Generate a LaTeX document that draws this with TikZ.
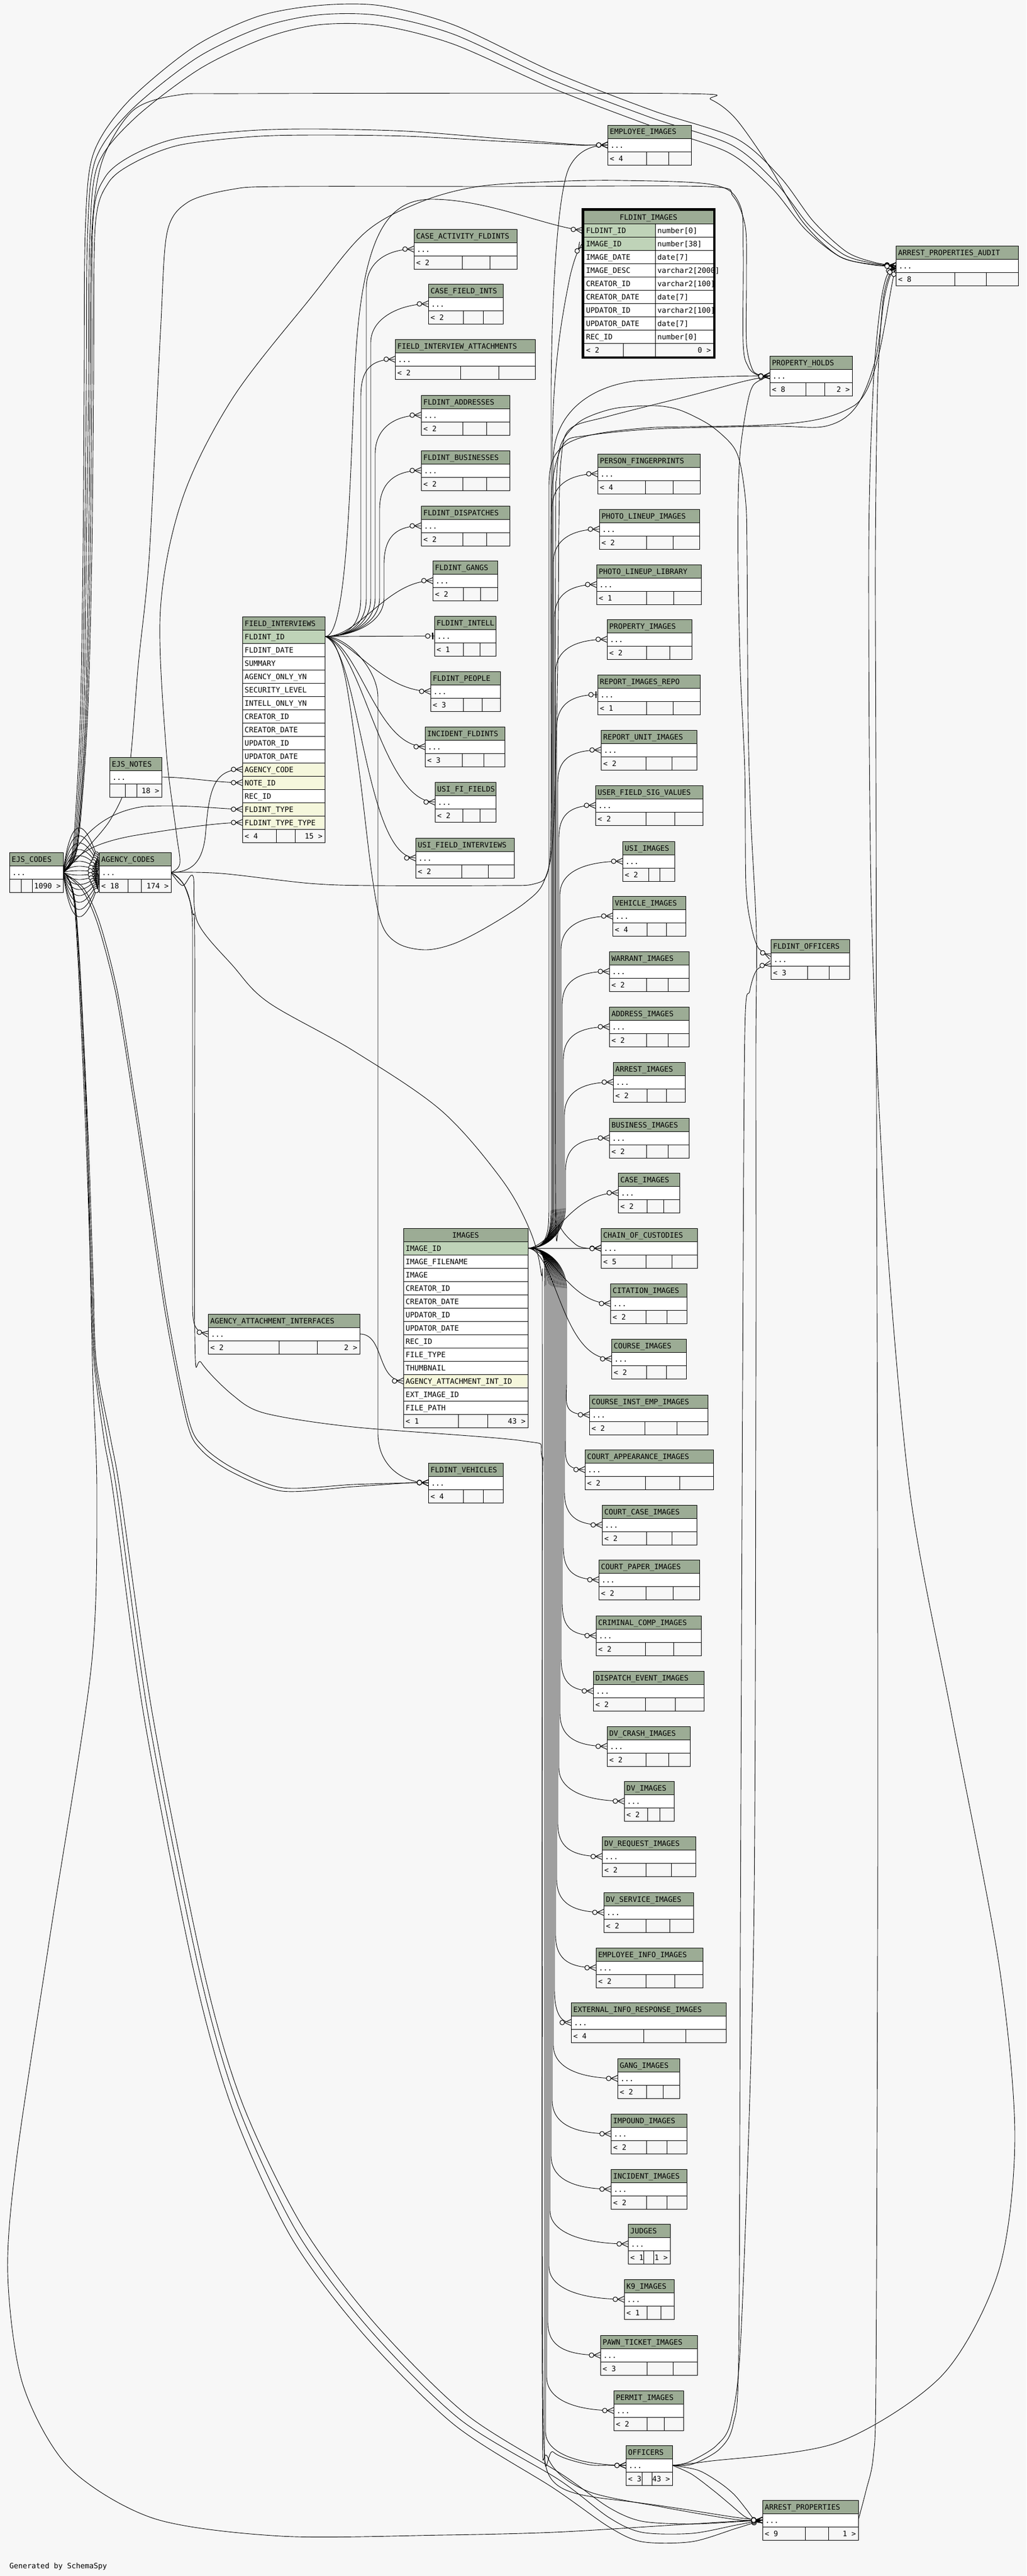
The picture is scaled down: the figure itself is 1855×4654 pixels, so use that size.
\documentclass[tikz,border=0pt]{standalone}
\usepackage{fontspec}
\newfontfamily\tabfont{DejaVu Sans Mono}
\definecolor{bgc}{HTML}{F7F7F7}
\definecolor{hdrc}{HTML}{9CAC95}
\definecolor{pkc}{HTML}{BFD3B8}
\definecolor{fkc}{HTML}{F5F7DC}
\pgfdeclarelayer{bg}
\pgfdeclarelayer{edges}
\pgfsetlayers{bg,edges,main}
\pgfdeclarearrow{
  name = crowodot,
  setup code = {
    \pgfarrowssettipend{0pt}
    \pgfarrowssetlineend{0pt}
    \pgfarrowssetbackend{-21pt}
    \pgfarrowssetvisualbackend{-21pt}
    \pgfarrowshullpoint{0pt}{6pt}
    \pgfarrowshullpoint{0pt}{-6pt}
    \pgfarrowshullpoint{-21pt}{0pt}
  },
  drawing code = {
    \pgfsetlinewidth{1pt}
    \pgfpathmoveto{\pgfqpoint{-12pt}{0pt}}
    \pgfpathlineto{\pgfqpoint{0pt}{5.5pt}}
    \pgfpathmoveto{\pgfqpoint{-12pt}{0pt}}
    \pgfpathlineto{\pgfqpoint{0pt}{-5.5pt}}
    \pgfusepathqstroke
    \pgfpathcircle{\pgfqpoint{-16pt}{0pt}}{4.2pt}
    \pgfsetfillcolor{bgc}
    \pgfusepathqfillstroke
  }
}
\pgfdeclarearrow{
  name = zeroone,
  setup code = {
    \pgfarrowssettipend{0pt}
    \pgfarrowssetlineend{0pt}
    \pgfarrowssetbackend{-17pt}
    \pgfarrowssetvisualbackend{-17pt}
    \pgfarrowshullpoint{0pt}{6pt}
    \pgfarrowshullpoint{0pt}{-6pt}
    \pgfarrowshullpoint{-17pt}{0pt}
  },
  drawing code = {
    \pgfsetlinewidth{2.5pt}
    \pgfpathmoveto{\pgfqpoint{-3pt}{-6pt}}
    \pgfpathlineto{\pgfqpoint{-3pt}{6pt}}
    \pgfusepathqstroke
    \pgfsetlinewidth{1pt}
    \pgfpathcircle{\pgfqpoint{-12pt}{0pt}}{4.2pt}
    \pgfsetfillcolor{bgc}
    \pgfusepathqfillstroke
  }
}
\tikzset{
  tb/.style={draw=black, line width=1pt},
  tx/.style={anchor=base west, inner sep=0pt, font=\tabfont\fontsize{13.3}{15}\selectfont},
  conn/.style={draw=black, line width=0.9pt},
  many/.style={arrows={-crowodot}},
  one/.style={arrows={-zeroone}},
}
% small table: id, x, y, w, title, left count, right count, divider1, divider2
\newcommand{\stab}[9]{%
  \fill[hdrc] (#2,#3) rectangle ++(#4,24);
  \fill[white] (#2,#3+24) rectangle ++(#4,24);
  \fill[bgc] (#2,#3+48) rectangle ++(#4,24);
  \draw[tb] (#2,#3) rectangle ++(#4,72);
  \draw[tb] (#2,#3+24) -- ++(#4,0) (#2,#3+48) -- ++(#4,0);
  \draw[tb] ({#2+#8*#4},#3+48) -- ++(0,24) ({#2+#9*#4},#3+48) -- ++(0,24);
  \node[tx] (#1-t) at (#2+4,#3+17) {#5};
  \node[tx] (#1-d) at (#2+5,#3+41) {...};
  \node[tx] (#1-l) at (#2+4,#3+65) {#6};
  \node[tx,anchor=base east] (#1-r) at (#2+#4-4,#3+65) {#7};
  \coordinate (#1) at (#2,#3+36);
}
% big table row: x, y, w, fill, text, id
\newcommand{\brow}[6]{%
  \fill[#4] (#1,#2) rectangle ++(#3,24);
  \draw[tb] (#1,#2) rectangle ++(#3,24);
  \node[tx] (#6) at (#1+4,#2+17) {#5};
}
% FLDINT_IMAGES row: y, fill, name, type, id
\newcommand{\frow}[5]{%
  \fill[#2] (1055,#1) rectangle (1184,#1+24);
  \fill[white] (1184,#1) rectangle (1289,#1+24);
  \draw[tb] (1055,#1) rectangle (1184,#1+24) (1184,#1) rectangle (1289,#1+24);
  \node[tx] (#5a) at (1059,#1+17) {#3};
  \node[tx] (#5b) at (1188,#1+17) {#4};
}
\newcommand{\fiup}[3]{\draw[conn,many] (FIpk) .. controls +(40,0) and +(0,50) .. (#2,1080) -- (#2,{#3+70}) .. controls +(0,-45) and +(-50,0) .. (#1);}
\newcommand{\imup}[4]{\draw[conn,many] (IMpk) .. controls +(35,0) and +(0,45) .. (#2,2180) -- (#2,{#3+60}) .. controls +(0,-40) and +(-#4,0) .. (#1);}
\newcommand{\imdn}[4]{\draw[conn,many] (IMpk) .. controls +(35,0) and +(0,-45) .. (#2,2330) -- (#2,{#3-60}) .. controls +(0,40) and +(-#4,0) .. (#1);}
\begin{document}
\begin{tikzpicture}[x=1pt,y=-1pt]
\begin{pgfonlayer}{bg}
\fill[bgc] (0,0) rectangle (1855,4654);
\end{pgfonlayer}
\useasboundingbox (0,0) rectangle (1855,4654);

% ---------------- small tables ----------------
\stab{EMP}{1098}{226}{151}{EMPLOYEE\_IMAGES}{< 4}{}{0.47}{0.73}
\stab{APA}{1619}{444}{221}{ARREST\_PROPERTIES\_AUDIT}{< 8}{}{0.48}{0.74}
\stab{CAF}{748}{414}{186}{CASE\_ACTIVITY\_FLDINTS}{< 2}{}{0.47}{0.74}
\stab{CFI}{774}{513}{135}{CASE\_FIELD\_INTS}{< 2}{}{0.47}{0.74}
\stab{FIA}{714}{613}{253}{FIELD\_INTERVIEW\_ATTACHMENTS}{< 2}{}{0.47}{0.74}
\stab{PH}{1391}{643}{149}{PROPERTY\_HOLDS}{< 8}{2 >}{0.44}{0.67}
\stab{ADR}{761}{714}{160}{FLDINT\_ADDRESSES}{< 2}{}{0.47}{0.74}
\stab{BUS}{761}{814}{160}{FLDINT\_BUSINESSES}{< 2}{}{0.47}{0.74}
\stab{PF}{1080}{820}{185}{PERSON\_FINGERPRINTS}{< 4}{}{0.47}{0.74}
\stab{DSP}{761}{914}{160}{FLDINT\_DISPATCHES}{< 2}{}{0.47}{0.74}
\stab{PLI}{1083}{920}{181}{PHOTO\_LINEUP\_IMAGES}{< 2}{}{0.47}{0.74}
\stab{GNG}{782}{1013}{117}{FLDINT\_GANGS}{< 2}{}{0.47}{0.74}
\stab{PLL}{1078}{1020}{189}{PHOTO\_LINEUP\_LIBRARY}{< 1}{}{0.48}{0.74}
\stab{INT}{785}{1113}{111}{FLDINT\_INTELL}{< 1}{}{0.47}{0.74}
\stab{PRI}{1097}{1119}{153}{PROPERTY\_IMAGES}{< 2}{}{0.47}{0.74}
\stab{PPL}{778}{1213}{126}{FLDINT\_PEOPLE}{< 3}{}{0.47}{0.74}
\stab{RIR}{1080}{1219}{185}{REPORT\_IMAGES\_REPO}{< 1}{}{0.48}{0.74}
\stab{INC}{768}{1313}{144}{INCIDENT\_FLDINTS}{< 3}{}{0.47}{0.74}
\stab{RUI}{1086}{1319}{173}{REPORT\_UNIT\_IMAGES}{< 2}{}{0.47}{0.74}
\stab{EN}{198}{1368}{94}{EJS\_NOTES}{}{18 >}{0.30}{0.53}
\stab{UFI}{786}{1413}{110}{USI\_FI\_FIELDS}{< 2}{}{0.46}{0.74}
\stab{UFSV}{1076}{1419}{194}{USER\_FIELD\_SIG\_VALUES}{< 2}{}{0.47}{0.74}
\stab{EJ}{17}{1540}{97}{EJS\_CODES}{}{1090 >}{0.22}{0.43}
\stab{AC}{179}{1540}{130}{AGENCY\_CODES}{< 18}{174 >}{0.40}{0.59}
\stab{UFIV}{751}{1514}{178}{USI\_FIELD\_INTERVIEWS}{< 2}{}{0.47}{0.74}
\stab{USII}{1125}{1520}{94}{USI\_IMAGES}{< 2}{}{0.50}{0.72}
\stab{VEHI}{1107}{1619}{132}{VEHICLE\_IMAGES}{< 4}{}{0.47}{0.74}
\stab{FO}{1393}{1697}{142}{FLDINT\_OFFICERS}{< 3}{}{0.47}{0.74}
\stab{WARI}{1101}{1719}{144}{WARRANT\_IMAGES}{< 2}{}{0.47}{0.74}
\stab{ADDI}{1101}{1819}{144}{ADDRESS\_IMAGES}{< 2}{}{0.47}{0.74}
\stab{ARRI}{1108}{1919}{130}{ARREST\_IMAGES}{< 2}{}{0.47}{0.74}
\stab{BUSI}{1101}{2020}{144}{BUSINESS\_IMAGES}{< 2}{}{0.47}{0.74}
\stab{CSI}{1117}{2119}{111}{CASE\_IMAGES}{< 2}{}{0.47}{0.74}
\stab{COC}{1086}{2219}{174}{CHAIN\_OF\_CUSTODIES}{< 5}{}{0.47}{0.74}
\stab{CIT}{1103}{2319}{138}{CITATION\_IMAGES}{< 2}{}{0.47}{0.74}
\stab{AAI}{376}{2374}{274}{AGENCY\_ATTACHMENT\_INTERFACES}{< 2}{2 >}{0.47}{0.72}
\stab{CRS}{1105}{2419}{135}{COURSE\_IMAGES}{< 2}{}{0.47}{0.74}
\stab{CIE}{1065}{2520}{214}{COURSE\_INST\_EMP\_IMAGES}{< 2}{}{0.47}{0.74}
\stab{CAI}{1057}{2619}{232}{COURT\_APPEARANCE\_IMAGES}{< 2}{}{0.47}{0.74}
\stab{FV}{774}{2643}{135}{FLDINT\_VEHICLES}{< 4}{}{0.47}{0.74}
\stab{CCI}{1088}{2719}{171}{COURT\_CASE\_IMAGES}{< 2}{}{0.47}{0.74}
\stab{CPI}{1082}{2818}{182}{COURT\_PAPER\_IMAGES}{< 2}{}{0.47}{0.74}
\stab{CCO}{1077}{2919}{190}{CRIMINAL\_COMP\_IMAGES}{< 2}{}{0.47}{0.74}
\stab{DEI}{1072}{3019}{200}{DISPATCH\_EVENT\_IMAGES}{< 2}{}{0.47}{0.74}
\stab{DCI}{1097}{3119}{150}{DV\_CRASH\_IMAGES}{< 2}{}{0.47}{0.74}
\stab{DVI}{1128}{3218}{90}{DV\_IMAGES}{< 2}{}{0.47}{0.72}
\stab{DRI}{1088}{3318}{169}{DV\_REQUEST\_IMAGES}{< 2}{}{0.47}{0.74}
\stab{DSI}{1091}{3419}{162}{DV\_SERVICE\_IMAGES}{< 2}{}{0.47}{0.74}
\stab{EII}{1077}{3519}{193}{EMPLOYEE\_INFO\_IMAGES}{< 2}{}{0.47}{0.74}
\stab{EXT}{1032}{3618}{280}{EXTERNAL\_INFO\_RESPONSE\_IMAGES}{< 4}{}{0.47}{0.74}
\stab{GNI}{1116}{3719}{112}{GANG\_IMAGES}{< 2}{}{0.47}{0.74}
\stab{IMP}{1104}{3819}{137}{IMPOUND\_IMAGES}{< 2}{}{0.47}{0.74}
\stab{INI}{1104}{3919}{137}{INCIDENT\_IMAGES}{< 2}{}{0.47}{0.74}
\stab{JDG}{1135}{4018}{76}{JUDGES}{< 1}{1 >}{0.37}{0.61}
\stab{K9I}{1128}{4118}{90}{K9\_IMAGES}{< 1}{}{0.46}{0.74}
\stab{PTI}{1085}{4219}{175}{PAWN\_TICKET\_IMAGES}{< 3}{}{0.48}{0.75}
\stab{PMI}{1109}{4319}{126}{PERMIT\_IMAGES}{< 2}{}{0.48}{0.73}
\stab{OFF}{1131}{4418}{84}{OFFICERS}{< 3}{43 >}{0.35}{0.56}
\stab{AP}{1378}{4517}{173}{ARREST\_PROPERTIES}{< 9}{1 >}{0.45}{0.69}

% ---------------- FIELD_INTERVIEWS ----------------
\brow{438}{1114}{149}{hdrc}{FIELD\_INTERVIEWS}{FI-h}
\brow{438}{1138}{149}{pkc}{FLDINT\_ID}{FI-r0}
\brow{438}{1162}{149}{white}{FLDINT\_DATE}{FI-r1}
\brow{438}{1186}{149}{white}{SUMMARY}{FI-r2}
\brow{438}{1210}{149}{white}{AGENCY\_ONLY\_YN}{FI-r3}
\brow{438}{1234}{149}{white}{SECURITY\_LEVEL}{FI-r4}
\brow{438}{1258}{149}{white}{INTELL\_ONLY\_YN}{FI-r5}
\brow{438}{1282}{149}{white}{CREATOR\_ID}{FI-r6}
\brow{438}{1306}{149}{white}{CREATOR\_DATE}{FI-r7}
\brow{438}{1330}{149}{white}{UPDATOR\_ID}{FI-r8}
\brow{438}{1354}{149}{white}{UPDATOR\_DATE}{FI-r9}
\brow{438}{1378}{149}{fkc}{AGENCY\_CODE}{FI-r10}
\brow{438}{1402}{149}{fkc}{NOTE\_ID}{FI-r11}
\brow{438}{1426}{149}{white}{REC\_ID}{FI-r12}
\brow{438}{1450}{149}{fkc}{FLDINT\_TYPE}{FI-r13}
\brow{438}{1474}{149}{fkc}{FLDINT\_TYPE\_TYPE}{FI-r14}
\fill[bgc] (438,1498) rectangle ++(149,24);
\draw[tb] (438,1498) rectangle ++(149,24) (499,1498) -- ++(0,24) (533,1498) -- ++(0,24);
\node[tx] (FI-fl) at (442,1515) {< 4};
\node[tx,anchor=base east] (FI-fr) at (583,1515) {15 >};

% ---------------- IMAGES ----------------
\fill[hdrc] (729,2219) rectangle ++(225,24);
\draw[tb] (729,2219) rectangle ++(225,24);
\node[tx,anchor=base] (IM-h) at (841.5,2236) {IMAGES};
\brow{729}{2243}{225}{pkc}{IMAGE\_ID}{IM-r0}
\brow{729}{2267}{225}{white}{IMAGE\_FILENAME}{IM-r1}
\brow{729}{2291}{225}{white}{IMAGE}{IM-r2}
\brow{729}{2315}{225}{white}{CREATOR\_ID}{IM-r3}
\brow{729}{2339}{225}{white}{CREATOR\_DATE}{IM-r4}
\brow{729}{2363}{225}{white}{UPDATOR\_ID}{IM-r5}
\brow{729}{2387}{225}{white}{UPDATOR\_DATE}{IM-r6}
\brow{729}{2411}{225}{white}{REC\_ID}{IM-r7}
\brow{729}{2435}{225}{white}{FILE\_TYPE}{IM-r8}
\brow{729}{2459}{225}{white}{THUMBNAIL}{IM-r9}
\brow{729}{2483}{225}{fkc}{AGENCY\_ATTACHMENT\_INT\_ID}{IM-r10}
\brow{729}{2507}{225}{white}{EXT\_IMAGE\_ID}{IM-r11}
\brow{729}{2531}{225}{white}{FILE\_PATH}{IM-r12}
\fill[bgc] (729,2555) rectangle ++(225,24);
\draw[tb] (729,2555) rectangle ++(225,24) (828,2555) -- ++(0,24) (881,2555) -- ++(0,24);
\node[tx] (IM-fl) at (733,2572) {< 1};
\node[tx,anchor=base east] (IM-fr) at (950,2572) {43 >};

% ---------------- FLDINT_IMAGES ----------------
\fill[hdrc] (1055,380) rectangle (1289,404);
\draw[tb] (1055,380) rectangle (1289,404);
\node[tx,anchor=base] (FIMG-h) at (1172,397) {FLDINT\_IMAGES};
\frow{404}{pkc}{FLDINT\_ID}{number[0]}{FIMG-r0}
\frow{428}{pkc}{IMAGE\_ID}{number[38]}{FIMG-r1}
\frow{452}{white}{IMAGE\_DATE}{date[7]}{FIMG-r2}
\frow{476}{white}{IMAGE\_DESC}{varchar2[2000]}{FIMG-r3}
\frow{500}{white}{CREATOR\_ID}{varchar2[100]}{FIMG-r4}
\frow{524}{white}{CREATOR\_DATE}{date[7]}{FIMG-r5}
\frow{548}{white}{UPDATOR\_ID}{varchar2[100]}{FIMG-r6}
\frow{572}{white}{UPDATOR\_DATE}{date[7]}{FIMG-r7}
\frow{596}{white}{REC\_ID}{number[0]}{FIMG-r8}
\fill[bgc] (1055,620) rectangle (1289,644);
\draw[tb] (1055,620) rectangle (1289,644) (1126,620) -- ++(0,24) (1184,620) -- ++(0,24);
\node[tx] (FIMG-fl) at (1059,637) {< 2};
\node[tx,anchor=base east] (FIMG-fr) at (1285,637) {0 >};
\draw[line width=3.5pt] (1053.2,378.2) rectangle (1290.8,645.8);

\node[tx] (gen) at (17,4640) {Generated by SchemaSpy};

% ---------------- anchor coordinates ----------------
\coordinate (FIpk) at (588,1150);
\coordinate (IMpk) at (955,2255);
\coordinate (EJpk) at (114,1576);
\coordinate (ACpk) at (309,1576);
\coordinate (ENpk) at (292,1404);
\coordinate (AAIpk) at (650,2410);
\coordinate (OFpk) at (1215,4454);
\coordinate (APpk) at (1551,4553);
\coordinate (FIac) at (438,1390);
\coordinate (FInote) at (438,1414);
\coordinate (FIty) at (438,1462);
\coordinate (FItt) at (438,1486);
\coordinate (IMaai) at (729,2495);
\coordinate (FIMGfi) at (1052,416);
\coordinate (FIMGim) at (1052,440);
\coordinate (FOa) at (1393,1728);
\coordinate (FOb) at (1393,1741);

% ---------------- connectors ----------------
\begin{pgfonlayer}{edges}
% FIELD_INTERVIEWS children
\fiup{CAF}{662}{450}
\fiup{CFI}{670}{549}
\fiup{FIA}{652}{649}
\fiup{ADR}{678}{750}
\fiup{BUS}{686}{850}
\fiup{DSP}{694}{950}
\draw[conn,many] (FIpk) .. controls (650,1150) and (700,1049) .. (GNG);
\draw[conn,one] (FIpk) -- (INT);
\draw[conn,many] (FIpk) .. controls (640,1158) and (690,1249) .. (PPL);
\draw[conn,many] (FIpk) .. controls (650,1165) and (680,1349) .. (INC);
\draw[conn,many] (FIpk) .. controls (655,1170) and (690,1449) .. (UFI);
\draw[conn,many] (FIpk) .. controls (650,1175) and (660,1550) .. (UFIV);
\draw[conn,many] (FIpk) .. controls +(40,0) and +(0,-50) .. (683,1260) -- (683,2590) .. controls +(0,55) and +(-50,0) .. (FV);
\draw[conn,many] (FIpk) .. controls (625,1150) and (632,900) .. (640,700) .. controls (650,420) and (700,360) .. (781,360) .. controls (880,360) and (990,410) .. (FIMGfi);
\draw[conn,many] plot[smooth,tension=0.55] coordinates {(FIpk) (605,1165) (625,1230) (650,1400) (672,1580) (690,1670) (720,1705) (769,1716) (820,1705) (880,1675) (950,1630) (984,1590) (1000,1500) (1008,1200) (1010,950) (1014,830) (1030,775) (1100,752) (1250,714) (1340,690) (PH)};

% IMAGES children
\draw[conn,many] (IMpk) .. controls +(35,0) and +(0,45) .. (996,2180) -- (996,700) .. controls (998,480) and (1012,330) .. (1030,300) .. controls (1045,272) and (1070,262) .. (EMP);
\draw[conn,many] (IMpk) .. controls +(35,0) and +(0,45) .. (998,2180) -- (998,800) .. controls (1000,650) and (1018,560) .. (1030,500) .. controls (1037,470) and (1044,452) .. (FIMGim);
\imup{PF}{998}{856}{50}
\imup{PLI}{1000}{956}{50}
\imup{PLL}{1002}{1056}{50}
\imup{PRI}{1004}{1155}{60}
\draw[conn,one] (IMpk) .. controls +(35,0) and +(0,45) .. (1006,2180) -- (1006,1315) .. controls +(0,-40) and +(-50,0) .. (RIR);
\imup{RUI}{1008}{1355}{60}
\imup{UFSV}{1010}{1455}{50}
\imup{USII}{1012}{1556}{70}
\imup{VEHI}{1014}{1655}{60}
\imup{WARI}{1016}{1755}{60}
\imup{ADDI}{1018}{1855}{60}
\imup{ARRI}{1020}{1955}{60}
\imup{BUSI}{1022}{2056}{60}
\draw[conn,many] (IMpk) .. controls (1000,2250) and (1030,2155) .. (CSI);
\draw[conn,many] (IMpk) -- (COC);
\draw[conn,many] (IMpk) .. controls (1000,2262) and (1030,2355) .. (CIT);
\draw[conn,many] (IMpk) .. controls (1005,2262) and (1015,2455) .. (CRS);
\imdn{CIE}{1024}{2556}{50}
\imdn{CAI}{1022}{2655}{40}
\imdn{CCI}{1020}{2755}{50}
\imdn{CPI}{1018}{2854}{50}
\imdn{CCO}{1016}{2955}{50}
\imdn{DEI}{1014}{3055}{45}
\imdn{DCI}{1012}{3155}{60}
\imdn{DVI}{1010}{3254}{70}
\imdn{DRI}{1008}{3354}{60}
\imdn{DSI}{1006}{3455}{60}
\imdn{EII}{1004}{3555}{55}
\imdn{EXT}{1002}{3654}{20}
\imdn{GNI}{1000}{3755}{70}
\imdn{IMP}{998}{3855}{70}
\imdn{INI}{996}{3955}{70}
\imdn{JDG}{994}{4054}{80}
\imdn{K9I}{992}{4154}{80}
\imdn{PTI}{990}{4255}{70}
\imdn{PMI}{988}{4355}{70}
\imdn{OFF}{986}{4454}{80}
\draw[conn,many] (IMpk) .. controls +(35,0) and +(0,45) .. (1000,2180) -- (1000,830) .. controls (1000,760) and (1050,700) .. (1150,688) .. controls (1250,682) and (1320,679) .. (PH);
\draw[conn,many] (IMpk) .. controls +(35,0) and +(0,45) .. (992,2180) -- (992,880) .. controls (992,800) and (1020,784) .. (1183,772) .. controls (1400,768) and (1480,772) .. (1545,732) .. controls (1590,700) and (1600,560) .. (APA);
\draw[conn,many] (IMpk) .. controls +(35,0) and +(0,-45) .. (984,2330) -- (984,4430) .. controls (984,4495) and (1020,4505) .. (1100,4515) .. controls (1250,4532) and (1320,4550) .. (AP);

% PROPERTY_HOLDS -> FLDINT_OFFICERS
\draw[conn,many] plot[smooth,tension=0.5] coordinates {(PH) (1362,695) (1350,732) (1338,812) (1334,902) (1334,1036) (1338,1214) (1346,1393) (1348,1598) (1357,1670) (1370,1712) (FOa)};

% AGENCY_ATTACHMENT_INTERFACES -> IMAGES
\draw[conn,many] (AAIpk) .. controls (695,2410) and (680,2495) .. (IMaai);

% EJS_NOTES -> FIELD_INTERVIEWS
\draw[conn,many] (ENpk) .. controls (340,1404) and (390,1414) .. (FInote);

% AGENCY_CODES
\draw[conn,many] (ACpk) .. controls (345,1576) and (368,1560) .. (372,1500) .. controls (378,1420) and (390,1390) .. (FIac);
\draw[conn,many] (ACpk) .. controls (335,1590) and (348,1620) .. (348,1680) -- (348,2350) .. controls (348,2395) and (350,2405) .. (AAI);
\draw[conn,many] plot[smooth,tension=0.5] coordinates {(ACpk) (332,1598) (348,1649) (352,1720) (352,2412) (364,2462) (420,2520) (478,2553) (638,2578) (944,2603) (979,2630) (980,2800) (980,4300) (990,4440) (1060,4500) (1200,4530) (1330,4552) (AP)};
\draw[conn,many] plot[smooth,tension=0.55] coordinates {(ACpk) (400,1578) (560,1596) (675,1600) (900,1600) (965,1597) (990,1575) (996,1480) (996,1200) (996,950) (1000,860) (1020,800) (1060,787) (1183,775) (1392,770) (1492,770) (1547,735) (1582,650) (1598,540) (1610,495) (APA)};
\draw[conn,many] plot[smooth,tension=0.55] coordinates {(ACpk) (330,1600) (349,1583) (357,1666) (421,1745) (485,1811) (638,1898) (797,2006) (906,2130) (957,2221) (978,2300) (980,2400) (980,3500) (982,4380) (1000,4430) (1060,4452) (1100,4454) (OFF)};
\draw[conn,many] plot[smooth,tension=0.55] coordinates {(ACpk) (325,1560) (318,1500) (300,1350) (290,1100) (330,900) (420,720) (560,540) (660,420) (760,365) (864,337) (1000,328) (1124,326) (1290,334) (1337,370) (1343,450) (1343,620) (1352,662) (1368,677) (PH)};

% EJS_CODES -> AGENCY_CODES (lens)
\foreach \b [count=\i] in {-80,-66,-53,-41,-30,-20,-11,-3,5,13,22,31,42,54,67,80} {
  \coordinate (ACin\i) at (179,{1576+0.22*(\b)});
  \draw[conn,many] (EJpk) .. controls (128,{1576+1.3*(\b)}) and (152,{1576+1.3*(\b)}) .. (ACin\i);
}
% EJS_CODES -> FIELD_INTERVIEWS
\draw[conn,many] (EJpk) .. controls (135,1530) and (170,1470) .. (260,1457) .. controls (340,1453) and (400,1462) .. (FIty);
\draw[conn,many] (EJpk) .. controls (140,1545) and (160,1525) .. (240,1510) .. controls (330,1495) and (400,1486) .. (FItt);
% EJS_CODES -> ARREST_PROPERTIES_AUDIT (over the top)
\draw[conn,many] plot[smooth,tension=0.5] coordinates {(EJpk) (132,1530) (145,1300) (150,1000) (152,700) (154,420) (168,280) (230,185) (350,85) (465,30) (574,10) (686,10) (820,45) (1000,130) (1180,200) (1330,250) (1410,320) (1470,400) (1530,455) (1580,474) (APA)};
\draw[conn,many] plot[smooth,tension=0.5] coordinates {(EJpk) (134,1530) (148,1300) (153,1000) (156,700) (158,430) (172,290) (236,200) (355,105) (470,50) (574,27) (686,28) (820,62) (1000,145) (1175,212) (1322,262) (1402,330) (1463,408) (1525,460) (1580,476) (APA)};
\draw[conn,many] plot[smooth,tension=0.5] coordinates {(EJpk) (136,1530) (151,1300) (156,1000) (160,700) (162,440) (176,300) (242,215) (360,125) (475,70) (574,45) (686,46) (820,80) (1000,160) (1170,225) (1315,275) (1395,340) (1456,415) (1520,465) (1580,478) (APA)};
\draw[conn,many] plot[smooth,tension=0.5] coordinates {(EJpk) (138,1530) (154,1300) (160,1000) (163,700) (166,420) (185,290) (240,200) (320,172) (450,169) (1230,169) (1285,180) (1330,215) (1390,300) (1450,400) (1515,462) (1580,479) (APA)};
% EJS_CODES -> EMPLOYEE_IMAGES
\draw[conn,many] plot[smooth,tension=0.5] coordinates {(EJpk) (139,1530) (156,1300) (163,1000) (166,700) (168,400) (190,320) (240,280) (320,250) (450,236) (568,233) (734,237) (900,250) (1040,261) (1070,262) (EMP)};
\draw[conn,many] plot[smooth,tension=0.5] coordinates {(EJpk) (140,1530) (158,1300) (166,1000) (169,700) (172,410) (196,330) (246,292) (325,262) (455,247) (568,244) (734,246) (900,255) (1040,262) (1070,262) (EMP)};
% EJS_CODES -> PROPERTY_HOLDS
\draw[conn,many] plot[smooth,tension=0.5] coordinates {(EJpk) (150,1540) (200,1480) (232,1400) (250,1200) (270,1000) (290,600) (302,420) (340,365) (420,342) (509,337) (900,337) (1278,337) (1325,355) (1347,410) (1349,500) (1349,620) (1360,668) (1375,678) (PH)};
% EJS_CODES -> FLDINT_VEHICLES
\draw[conn,many] plot[smooth,tension=0.5] coordinates {(EJpk) (150,1610) (178,1674) (210,1798) (240,1980) (268,2163) (300,2380) (338,2570) (364,2620) (420,2660) (510,2694) (638,2686) (740,2679) (FV)};
\draw[conn,many] plot[smooth,tension=0.5] coordinates {(EJpk) (152,1606) (181,1670) (213,1795) (243,1978) (271,2160) (303,2376) (341,2565) (368,2614) (424,2654) (512,2688) (638,2682) (740,2679) (FV)};
% EJS_CODES -> ARREST_PROPERTIES
\draw[conn,many] plot[smooth,tension=0.5] coordinates {(EJpk) (137,1641) (156,1997) (167,2462) (175,2700) (165,3011) (90,3500) (30,3900) (14,4108) (41,4307) (124,4457) (278,4550) (509,4582) (800,4580) (1000,4575) (1200,4563) (1330,4555) (AP)};
\draw[conn,many] plot[smooth,tension=0.5] coordinates {(EJpk) (135,1641) (153,1997) (164,2300) (170,2460) (188,2600) (205,2700) (260,3100) (350,3560) (420,3810) (525,4040) (655,4215) (820,4380) (1000,4495) (1100,4565) (1160,4592) (1250,4592) (1330,4568) (AP)};
\draw[conn,many] plot[smooth,tension=0.5] coordinates {(EJpk) (136,1641) (155,1997) (166,2300) (172,2460) (194,2600) (212,2700) (268,3100) (360,3560) (430,3805) (535,4030) (665,4205) (830,4370) (1010,4480) (1100,4548) (1160,4575) (1250,4577) (1330,4562) (AP)};
\draw[conn,many] plot[smooth,tension=0.5] coordinates {(EJpk) (137,1641) (157,1997) (168,2300) (174,2460) (200,2600) (218,2700) (276,3100) (368,3560) (438,3800) (545,4020) (675,4195) (840,4360) (1015,4470) (1100,4530) (1160,4555) (1250,4560) (1330,4556) (AP)};

% OFFICERS
\draw[conn,many] plot[smooth,tension=0.5] coordinates {(OFpk) (1278,4447) (1513,4413) (1703,4291) (1805,4102) (1834,3859) (1805,3547) (1720,3100) (1645,2700) (1600,2200) (1575,1650) (1570,1000) (1578,700) (1590,560) (1602,500) (APA)};
\draw[conn,many] plot[smooth,tension=0.5] coordinates {(OFpk) (1251,4452) (1300,4425) (1325,4380) (1335,4250) (1338,3500) (1342,2500) (1346,1866) (1355,1790) (1368,1752) (FOb)};
\draw[conn,many] plot[smooth,tension=0.5] coordinates {(OFpk) (1245,4448) (1295,4418) (1322,4370) (1340,4200) (1362,3500) (1366,2500) (1366,1900) (1367,1687) (1357,1482) (1352,1304) (1350,1000) (1348,911) (1338,839) (1323,804) (1283,768) (1229,741) (1183,733) (1110,738) (1050,760) (1015,800) (1006,860) (1004,1000) (1004,2150) (1012,2215) (1040,2248) (1060,2255) (COC)};
\draw[conn,many] plot[smooth,tension=0.5] coordinates {(OFpk) (1262,4463) (1300,4485) (1327,4507) (1350,4535) (1362,4550) (AP)};
\draw[conn,many] plot[smooth,tension=0.5] coordinates {(OFpk) (1250,4470) (1290,4500) (1320,4525) (1345,4546) (1360,4552) (AP)};
% ARREST_PROPERTIES -> ARREST_PROPERTIES_AUDIT
\draw[conn,many] plot[smooth,tension=0.5] coordinates {(APpk) (1565,4500) (1578,4440) (1583,4300) (1586,3500) (1586,2775) (1584,2000) (1583,1400) (1582,1000) (1586,700) (1595,550) (1606,500) (APA)};
\end{pgfonlayer}
\end{tikzpicture}
\end{document}
